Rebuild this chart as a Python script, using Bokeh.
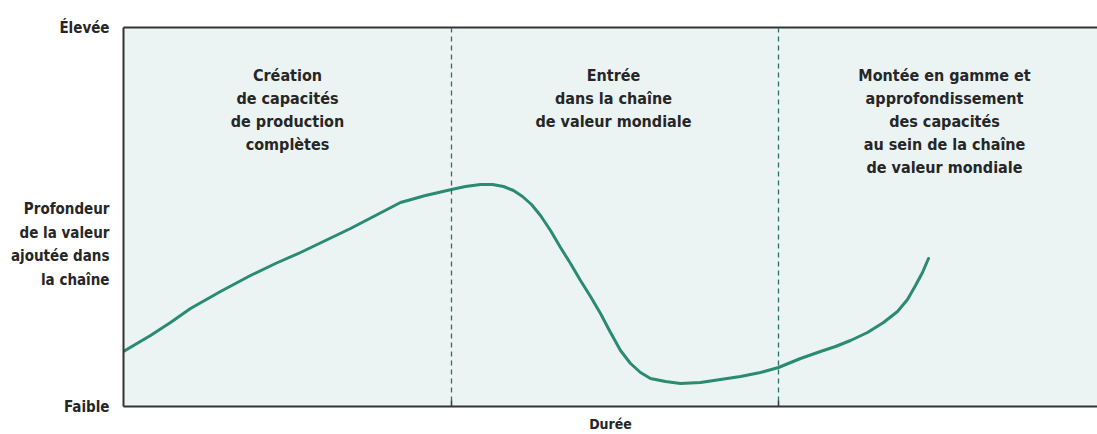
from bokeh.plotting import figure
from bokeh.models import Range1d, FixedTicker, LinearAxis, Span, Label
from bokeh.embed import file_html
from bokeh.resources import INLINE

# ---- data (time units on x, value-added depth on y) ----
curve_x = [0, 27, 47, 67, 97, 127, 152, 177, 202, 227, 252, 277, 302, 328, 342,
           357, 369, 380, 390, 399, 408, 417, 427, 437, 447, 457, 467, 477, 487,
           497, 507, 517, 527, 542, 557, 577, 597, 617, 637, 655, 677, 697, 712,
           727, 744, 760, 774, 784, 792, 799, 805]
curve_y = [55, 71, 84, 98, 115, 131, 143, 154, 166, 178, 191, 204, 211, 217, 220,
           222, 222, 220, 216, 210, 202, 191, 176, 159, 143, 126, 110, 93, 74,
           56, 43, 34, 28, 25, 23, 24, 27, 30, 34, 39, 48, 55, 60,
           66, 74, 84, 95, 107, 121, 134, 148]
phase_bounds = [0, 328, 655, 974]
phase_centers = [164, 490, 821]
phase_labels = [
    "Création\nde capacités\nde production\ncomplètes",
    "Entrée\ndans la chaîne\nde valeur mondiale",
    "Montée en gamme et\napprofondissement\ndes capacités\nau sein de la chaîne\nde valeur mondiale",
]
y_ticks = [0, 162, 379]
y_tick_labels = ["Faible", "Profondeur\nde la valeur\najoutée dans\nla chaîne", "Élevée"]
x_label = "Durée"

FONT = "'DejaVu Sans Condensed', 'DejaVu Sans', sans-serif"
TEXT = "#262626"

p = figure(width=1097, height=434, output_backend="svg",
           toolbar_location=None, x_range=Range1d(phase_bounds[0], phase_bounds[-1]),
           y_range=Range1d(y_ticks[0], y_ticks[-1]),
           min_border_left=123, min_border_right=0, min_border_top=27,
           min_border_bottom=28, x_axis_location=None, y_axis_location=None)
p.background_fill_color = "#EBF4F3"
p.border_fill_color = "white"
p.outline_line_color = None
p.xgrid.grid_line_color = None
p.ygrid.grid_line_color = None

# left axis
ya = LinearAxis(ticker=FixedTicker(ticks=y_ticks),
                major_label_overrides={t: l for t, l in zip(y_ticks, y_tick_labels)})
ya.axis_line_color = "#333333"
ya.axis_line_width = 2
ya.major_tick_line_color = None
ya.minor_tick_line_color = None
ya.major_tick_in = 0
ya.major_tick_out = 0
ya.major_label_standoff = 14
ya.major_label_text_font = FONT
ya.major_label_text_font_style = "bold"
ya.major_label_text_font_size = "15px"
ya.major_label_text_color = TEXT
ya.major_label_text_line_height = 1.33
p.add_layout(ya, "left")

# bottom axis
xa = LinearAxis(ticker=FixedTicker(ticks=phase_bounds[1:-1]),
                major_label_overrides={t: "" for t in phase_bounds[1:-1]})
xa.axis_line_color = "#333333"
xa.axis_line_width = 2
xa.major_tick_in = 6
xa.major_tick_out = 0
xa.major_tick_line_color = "#333333"
xa.major_tick_line_width = 1.5
xa.minor_tick_line_color = None
xa.major_label_text_font_size = "0px"
xa.major_label_standoff = 0
xa.axis_label = x_label
xa.axis_label_standoff = 9
xa.axis_label_text_font = FONT
xa.axis_label_text_font_style = "bold"
xa.axis_label_text_font_size = "14px"
xa.axis_label_text_color = TEXT
p.add_layout(xa, "below")

# top axis (frame line only)
ta = LinearAxis(ticker=FixedTicker(ticks=[]))
ta.axis_line_color = "#333333"
ta.axis_line_width = 2
ta.major_tick_line_color = None
ta.minor_tick_line_color = None
ta.major_tick_in = 0
ta.major_tick_out = 0
ta.major_label_text_font_size = "0px"
p.add_layout(ta, "above")

# phase separators
for b in phase_bounds[1:-1]:
    p.add_layout(Span(location=b, dimension="height", line_color="#2D6E67",
                      line_width=1.3, line_dash="5 4"))

# phase labels
for cx, lab in zip(phase_centers, phase_labels):
    p.add_layout(Label(x=cx, y=341, text=lab, text_align="center",
                       text_baseline="top", text_font=FONT, text_font_style="bold",
                       text_font_size="16px", text_color=TEXT,
                       text_line_height=1.22))

# curve
p.line(curve_x, curve_y, line_color="#2A8A72", line_width=3, line_join="round",
       line_cap="round")

open("out.html", "w").write(file_html(p, INLINE))
